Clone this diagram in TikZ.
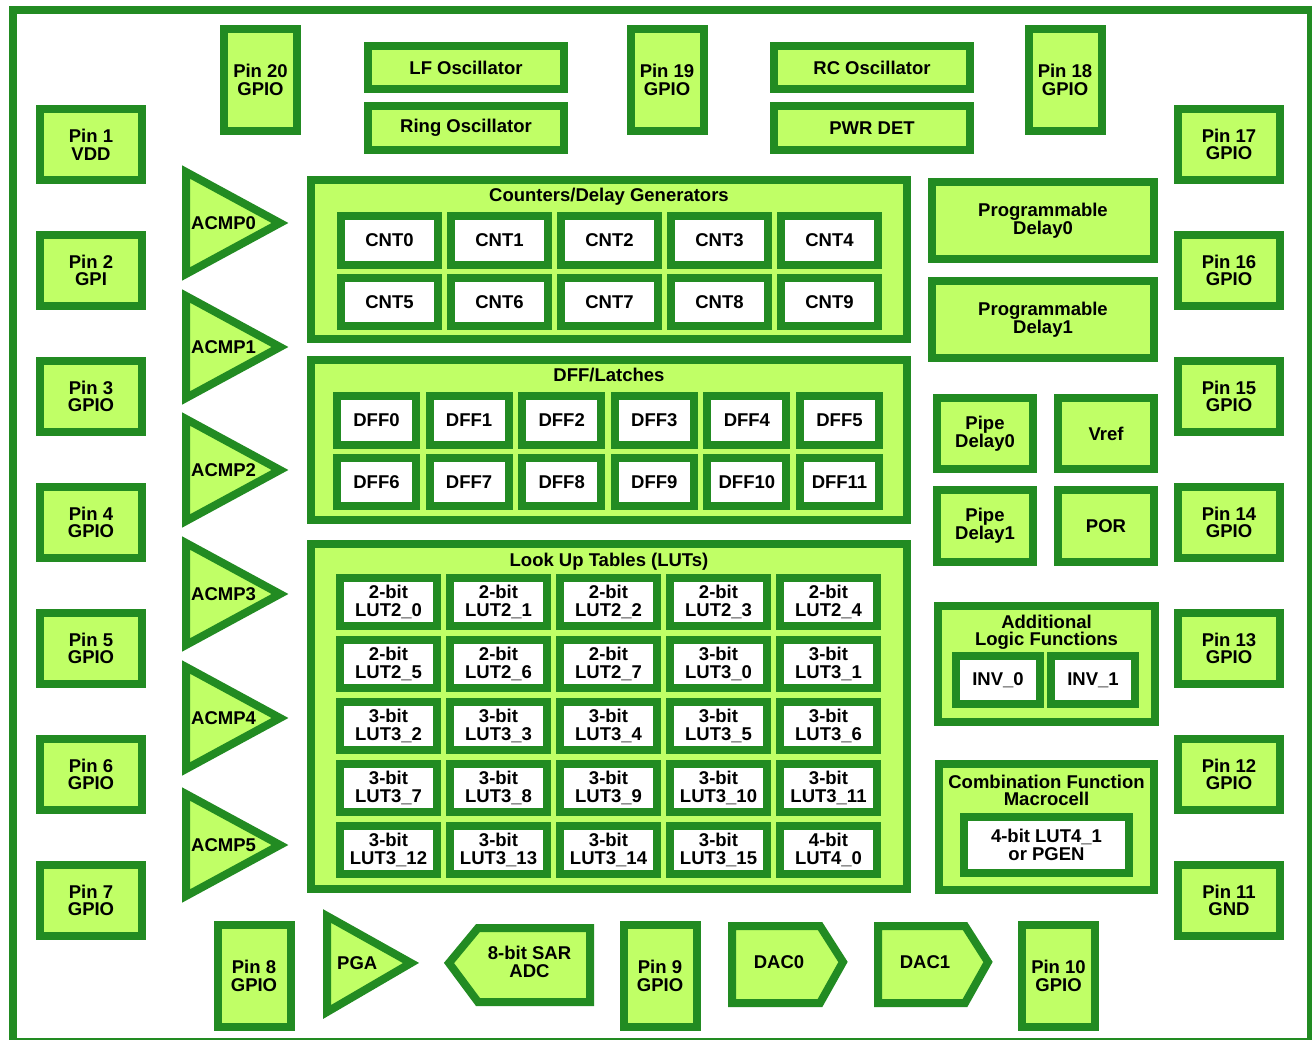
\documentclass[tikz,border=0pt]{standalone}
\usepackage{fontspec}
\setmainfont{Liberation Sans}
\usepackage{xcolor}
\usetikzlibrary{positioning}

\definecolor{chipdark}{RGB}{34,139,34}
\definecolor{chiplight}{RGB}{192,255,102}

\begin{document}
\begin{tikzpicture}[x=1pt, y=-1pt,
    every node/.style={font=\bfseries\fontsize{18.5}{17.7}\selectfont, align=center, inner sep=0pt},
    block/.style={draw=chipdark, fill=chiplight, line width=8pt},
    cell/.style={draw=chipdark, fill=white, line width=8pt},
    amp/.style={draw=chipdark, fill=chiplight, line width=8pt, line join=miter},
    sidepin/.style={block, minimum width=102pt, minimum height=71pt},
    endpin/.style={block, minimum width=73pt, minimum height=102pt},
    osc/.style={block, minimum width=196pt, minimum height=43pt},
    bank/.style={block, minimum width=596pt},
]
    \useasboundingbox (0,0) rectangle (1312,1040);
    \draw[chipdark, line width=8pt] (13,10) rectangle (1311,1042);

    \foreach \pinno/\pinlbl [count=\idx from 0] in {1/VDD,2/GPI,3/GPIO,4/GPIO,5/GPIO,6/GPIO,7/GPIO}
        \node[sidepin] (pin\pinno) at (91,144.5+126*\idx) {Pin \pinno\\\pinlbl};
    \foreach \pinno/\pinlbl [count=\idx from 0] in {17/GPIO,16/GPIO,15/GPIO,14/GPIO,13/GPIO,12/GPIO,11/GND}
        \node[sidepin] (pin\pinno) at (1229,144.5+126*\idx) {Pin \pinno\\\pinlbl};

    \node[endpin] (pin20) at (260.5,80) {Pin 20\\GPIO};
    \node[endpin] (pin19) at (667,80) {Pin 19\\GPIO};
    \node[endpin] (pin18) at (1065,80) {Pin 18\\GPIO};
    \node[endpin] (pin8) at (254,976) {Pin 8\\GPIO};
    \node[endpin] (pin9) at (660,976) {Pin 9\\GPIO};
    \node[endpin] (pin10) at (1058.5,976) {Pin 10\\GPIO};

    \node[osc] (lfosc) at (466,67.5) {LF Oscillator};
    \node[osc, minimum height=44pt] (ringosc) at (466,128) {Ring Oscillator};
    \node[osc] (rcosc) at (872,67.5) {RC Oscillator};
    \node[osc, minimum height=44pt] (pwrdet) at (872,128) {PWR DET};

    \node[bank, minimum height=159pt] (cntbank) at (609,259.5) {};
    \node[anchor=base] (cnttitle) at (609,201.5) {Counters/Delay Generators};
    \foreach \col in {0,...,4} {
        \pgfmathtruncatemacro\low{\col+5}
        \node[cell, minimum width=97pt, minimum height=49pt] (cnt\col) at (389.5+110*\col,240.5) {CNT\col};
        \node[cell, minimum width=97pt, minimum height=48pt] (cnt\low) at (389.5+110*\col,302) {CNT\low};
    }

    \node[bank, minimum height=160pt] (dffbank) at (609,440) {};
    \node[anchor=base] (dfftitle) at (609,382) {DFF/Latches};
    \foreach \col in {0,...,5} {
        \pgfmathtruncatemacro\low{\col+6}
        \node[cell, minimum width=79pt, minimum height=49pt] (dff\col) at (376.5+92.6*\col,420.5) {DFF\col};
        \node[cell, minimum width=79pt, minimum height=48pt] (dff\low) at (376.5+92.6*\col,482) {DFF\low};
    }

    \node[bank, minimum height=345pt] (lutbank) at (609,716.5) {};
    \node[anchor=base] (luttitle) at (609,566) {Look Up Tables (LUTs)};
    \foreach \bits/\lutname [count=\idx from 0] in {
            2/LUT2\_0,2/LUT2\_1,2/LUT2\_2,2/LUT2\_3,2/LUT2\_4,
            2/LUT2\_5,2/LUT2\_6,2/LUT2\_7,3/LUT3\_0,3/LUT3\_1,
            3/LUT3\_2,3/LUT3\_3,3/LUT3\_4,3/LUT3\_5,3/LUT3\_6,
            3/LUT3\_7,3/LUT3\_8,3/LUT3\_9,3/LUT3\_10,3/LUT3\_11,
            3/LUT3\_12,3/LUT3\_13,3/LUT3\_14,3/LUT3\_15,4/LUT4\_0} {
        \pgfmathtruncatemacro\col{mod(\idx,5)}
        \pgfmathtruncatemacro\row{div(\idx,5)}
        \node[cell, minimum width=97pt, minimum height=48pt] (lut\idx) at (388.5+110*\col,602+62*\row) {\bits-bit\\\lutname};
    }

    \foreach \tip [count=\idx from 0] in {223,347,470,594,718,845} {
        \draw[amp] (186,\tip-51) -- (280,\tip) -- (186,\tip+51) -- cycle;
        \node[anchor=west] (acmp\idx) at (191,\tip) {ACMP\idx};
    }

    \node[block, minimum width=222pt, minimum height=77pt] (pdly0) at (1043,220.5) {Programmable\\Delay0};
    \node[block, minimum width=222pt, minimum height=77pt] (pdly1) at (1043,319.5) {Programmable\\Delay1};
    \node[block, minimum width=96pt, minimum height=71pt] (pipe0) at (985,433.5) {Pipe\\Delay0};
    \node[block, minimum width=96pt, minimum height=71pt] (vref) at (1106,433.5) {Vref};
    \node[block, minimum width=96pt, minimum height=72pt] (pipe1) at (985,526) {Pipe\\Delay1};
    \node[block, minimum width=96pt, minimum height=72pt] (por) at (1106,526) {POR};

    \node[block, minimum width=217pt, minimum height=116pt] (alf) at (1046.5,664) {};
    \node (alftitle) at (1046.5,632.4) {Additional\\Logic Functions};
    \node[cell, minimum width=84pt, minimum height=48pt] (inv0) at (998,680) {INV\_0};
    \node[cell, minimum width=84pt, minimum height=48pt] (inv1) at (1093,680) {INV\_1};

    \node[block, minimum width=215pt, minimum height=126pt] (cfm) at (1046.5,827) {};
    \node (cfmtitle) at (1046.5,790.5) {Combination Function\\Macrocell};
    \node[cell, minimum width=165pt, minimum height=56pt] (lut41) at (1046.5,845) {4-bit LUT4\_1\\or PGEN};

    \draw[amp] (327,916) -- (411,963) -- (327,1012) -- cycle;
    \node[anchor=west] (pga) at (337,963) {PGA};

    \draw[amp] (590,928) -- (478,928) -- (449,963) -- (478,1002) -- (590,1002) -- cycle;
    \node (adc) at (529.5,962) {8-bit SAR\\ADC};

    \draw[amp] (732,926) -- (820,926) -- (843,962) -- (820,1003) -- (732,1003) -- cycle;
    \node (dac0) at (779,962) {DAC0};
    \draw[amp] (878,926) -- (965,926) -- (988,962) -- (965,1003) -- (878,1003) -- cycle;
    \node (dac1) at (925,962) {DAC1};
\end{tikzpicture}
\end{document}
